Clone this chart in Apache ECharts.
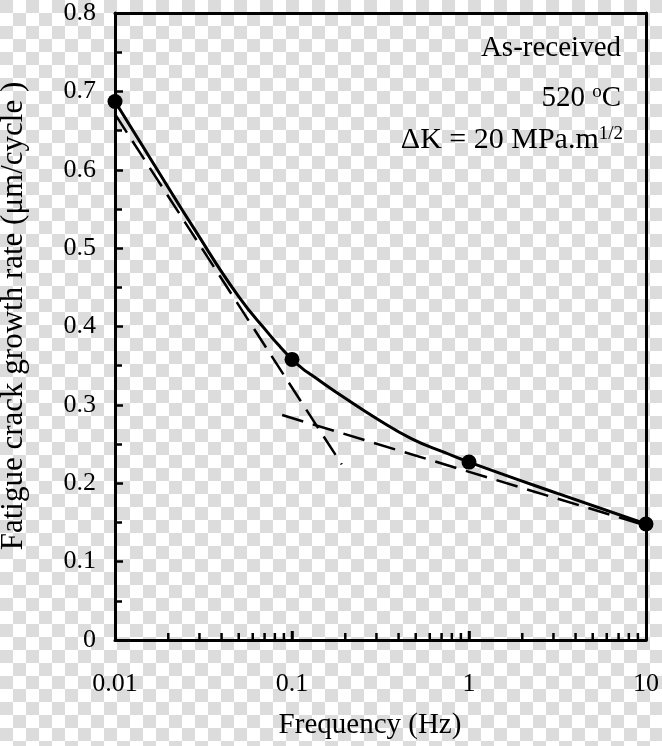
<!DOCTYPE html>
<html><head><meta charset="utf-8">
<script src="https://cdn.jsdelivr.net/npm/echarts@6/dist/echarts.min.js"></script>
<style>
html,body{margin:0;padding:0;}
body{width:662px;height:746px;background-color:#fff;background-image:conic-gradient(#fff 0 25%, #dcdcdc 0 50%, #fff 0 75%, #dcdcdc 0);background-size:26px 26px;overflow:hidden;}
#c{width:662px;height:746px;}
</style></head><body><div id="c"></div>
<script>
// ---- data ----
const xTickLabels = ['0.01', '0.1', '1', '10'];
const pointFreq = [0.01, 0.1, 1, 10];
const pointRate = [0.687, 0.358, 0.227, 0.148];
const curveFreq = [0.01, 0.0179, 0.0274, 0.05, 0.075, 0.0866, 0.1, 0.115, 0.129, 0.201, 0.308, 0.472, 0.733, 1, 3.16, 10];
const curveRate = [0.687, 0.595, 0.528, 0.438, 0.389, 0.373, 0.358, 0.346, 0.338, 0.308, 0.281, 0.257, 0.239, 0.227, 0.187, 0.148];
const dash1Freq = [0.01, 0.191];
const dash1Rate = [0.671, 0.224];
const dash2Freq = [0.088, 10];
const dash2Rate = [0.287, 0.146];
const xMinorTicks = [0.02, 0.03, 0.04, 0.05, 0.06, 0.07, 0.08, 0.09,
                     0.2, 0.3, 0.4, 0.5, 0.6, 0.7, 0.8, 0.9,
                     2, 3, 4, 5, 6, 7, 8, 9];
const xMajorTicks = [0.1, 1];

const FONT = '"Liberation Serif", "Times New Roman", serif';
const zip = (a, b) => a.map((v, i) => [v, b[i]]);

const chart = echarts.init(document.getElementById('c'), null, {renderer: 'canvas'});
chart.setOption({
  backgroundColor: 'transparent',
  animation: false,
  grid: {left: 115, right: 13, top: 8, bottom: 106, show: false},
  xAxis: [{
    type: 'log', logBase: 10, min: 0.01, max: 10,
    axisLine: {onZero: false, lineStyle: {color: '#000', width: 3}},
    axisTick: {show: true, inside: true, length: 9, lineStyle: {color: '#000', width: 2.5}},
    minorTick: {show: false},
    splitLine: {show: false},
    axisLabel: {
      color: '#000', fontFamily: FONT, fontSize: 26, margin: 31,
      formatter: (v) => {
        const i = Math.round(Math.log10(v)) + 2;
        return xTickLabels[i] !== undefined ? xTickLabels[i] : '';
      }
    }
  }, {
    type: 'log', logBase: 10, min: 0.01, max: 10, position: 'top',
    axisLine: {onZero: false, lineStyle: {color: '#000', width: 3}},
    axisTick: {show: false}, axisLabel: {show: false}, splitLine: {show: false}
  }],
  yAxis: [{
    type: 'value', min: 0, max: 0.8, interval: 0.1,
    axisLine: {show: true, onZero: false, lineStyle: {color: '#000', width: 3}},
    axisTick: {show: true, inside: true, length: 8, lineStyle: {color: '#000', width: 2.5}},
    minorTick: {show: true, splitNumber: 2, length: 7, lineStyle: {color: '#000', width: 2.5}},
    splitLine: {show: false},
    axisLabel: {color: '#000', fontFamily: FONT, fontSize: 26, margin: 19}
  }, {
    type: 'value', min: 0, max: 0.8, interval: 0.1, position: 'right',
    axisLine: {show: true, onZero: false, lineStyle: {color: '#000', width: 3}},
    axisTick: {show: false}, axisLabel: {show: false}, splitLine: {show: false}
  }],
  series: [
    {
      type: 'line', data: zip(curveFreq, curveRate), smooth: 0.5, symbol: 'none',
      lineStyle: {color: '#000', width: 3}, z: 3
    },
    {
      type: 'line', data: zip(dash1Freq, dash1Rate), symbol: 'none',
      lineStyle: {color: '#000', width: 2.5, type: [22, 10]}, z: 2
    },
    {
      type: 'line', data: zip(dash2Freq, dash2Rate), symbol: 'none',
      lineStyle: {color: '#000', width: 2.5, type: [22, 10]}, z: 2
    },
    {
      type: 'scatter', data: zip(pointFreq, pointRate), symbol: 'circle', symbolSize: 15,
      itemStyle: {color: '#000', opacity: 1}, clip: false, z: 5
    },
    {
      type: 'scatter', data: xMinorTicks.map(f => [f, 0]), symbol: 'rect',
      symbolSize: [2.5, 7], symbolOffset: [0, -3.5], itemStyle: {color: '#000', opacity: 1}, clip: false, z: 6,
      silent: true
    },
    {
      type: 'scatter', data: xMajorTicks.map(f => [f, 0]), symbol: 'rect',
      symbolSize: [2.5, 9], symbolOffset: [0, -4.5], itemStyle: {color: '#000', opacity: 1}, clip: false, z: 6,
      silent: true
    }
  ],
  graphic: [
    {type: 'text', x: 14, y: 316, rotation: Math.PI / 2,
     style: {text: 'Fatigue crack growth rate (\u03bcm/cycle )', font: '31px ' + FONT, fill: '#000', textAlign: 'center', textVerticalAlign: 'middle'}},
    {type: 'text', x: 370, y: 725,
     style: {text: 'Frequency (Hz)', font: '29px ' + FONT, fill: '#000', textAlign: 'center', textVerticalAlign: 'middle'}},
    {type: 'text', x: 621, y: 48,
     style: {text: 'As-received', font: '29px ' + FONT, fill: '#000', textAlign: 'right', textVerticalAlign: 'middle'}},
    {type: 'text', x: 621, y: 98,
     style: {text: '{a|520 }{s|o}{a|C}', fill: '#000', textAlign: 'right', textVerticalAlign: 'middle',
       rich: {a: {fontFamily: FONT, fontSize: 29, lineHeight: 30, verticalAlign: 'bottom'},
              s: {fontFamily: FONT, fontSize: 19, lineHeight: 30, verticalAlign: 'top'}}}},
    {type: 'text', x: 623, y: 140,
     style: {text: '{a|\u0394K = 20 MPa.m}{s|1/2}', fill: '#000', textAlign: 'right', textVerticalAlign: 'middle',
       rich: {a: {fontFamily: FONT, fontSize: 30, lineHeight: 30, verticalAlign: 'bottom'},
              s: {fontFamily: FONT, fontSize: 19, lineHeight: 30, verticalAlign: 'top'}}}}
  ]
});
</script>
</body></html>
